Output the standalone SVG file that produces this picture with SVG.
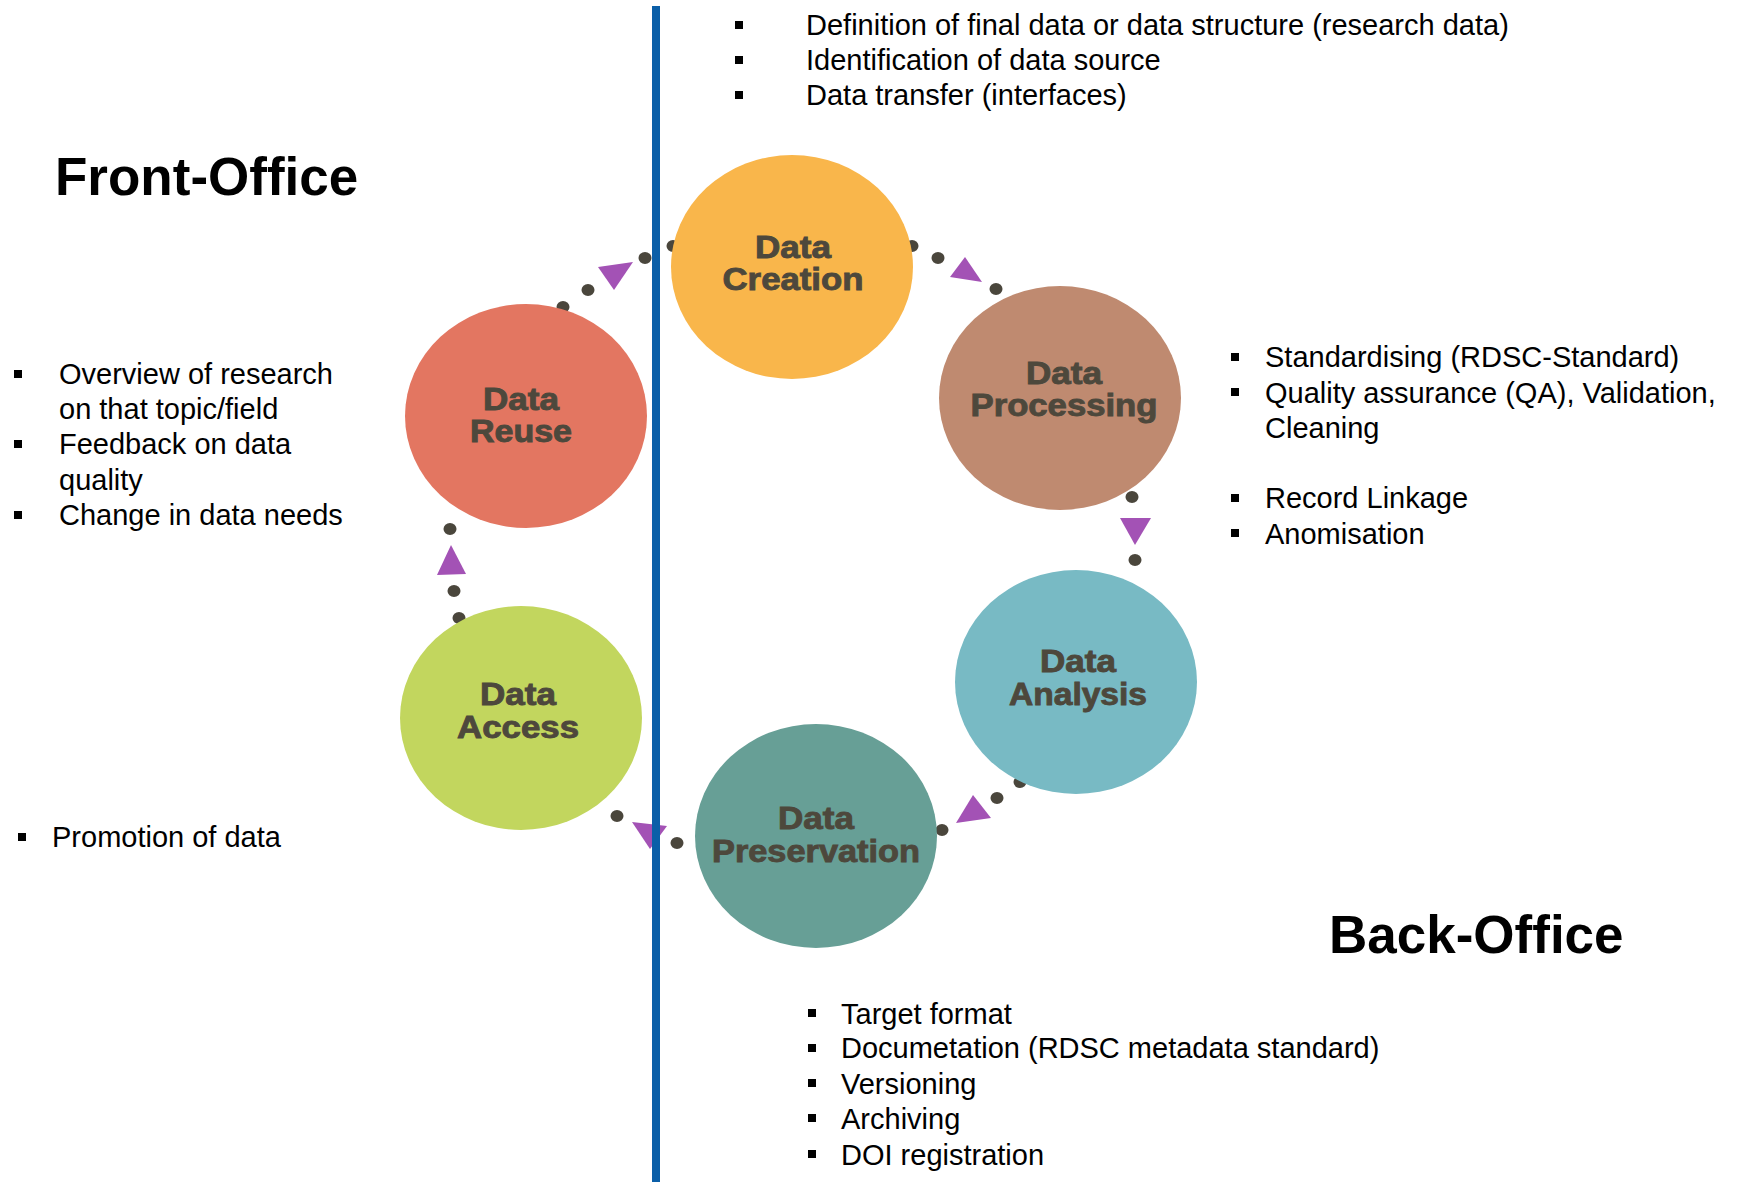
<svg xmlns="http://www.w3.org/2000/svg" width="1738" height="1182" viewBox="0 0 1738 1182">
<style>
.bg{fill:#ffffff}
.node{stroke:none}
.lbl{font-family:"Liberation Sans",Arial,Helvetica,sans-serif;font-weight:bold;font-size:31px;fill:#4d483c;stroke:#4d483c;stroke-width:0.9px;text-anchor:middle}
.dot{fill:#4a463c}
.tri{fill:#a352b5}
.txt{font-family:"Liberation Sans",Arial,sans-serif;font-size:29px;fill:#000000}
.title{font-family:"Liberation Sans",Arial,sans-serif;font-size:53px;font-weight:bold;fill:#000000}
.bul{fill:#000000}
</style>
<defs>
<rect id="b" x="-4" y="-4" width="8" height="8"/>
</defs>
<rect class="bg" x="0" y="0" width="1738" height="1182"/>

<g id="connectors">
  <!-- Reuse -> Creation -->
  <ellipse class="dot" cx="563" cy="307" rx="6.5" ry="6"/>
  <ellipse class="dot" cx="588" cy="290" rx="6.5" ry="6"/>
  <polygon class="tri" points="598,267 633,262 614,290"/>
  <ellipse class="dot" cx="645" cy="258" rx="6.5" ry="6"/>
  <ellipse class="dot" cx="673" cy="246" rx="6.5" ry="6"/>
  <!-- Creation -> Processing -->
  <ellipse class="dot" cx="912" cy="246" rx="6.5" ry="6"/>
  <ellipse class="dot" cx="938" cy="258" rx="6.5" ry="6"/>
  <polygon class="tri" points="965,257 950,277 982,282"/>
  <ellipse class="dot" cx="996" cy="289" rx="6.5" ry="6"/>
  <!-- Processing -> Analysis -->
  <ellipse class="dot" cx="1132" cy="497" rx="6.5" ry="6"/>
  <polygon class="tri" points="1120,518 1151,518 1135,545"/>
  <ellipse class="dot" cx="1135" cy="560" rx="6.5" ry="6"/>
  <!-- Analysis -> Preservation -->
  <ellipse class="dot" cx="1020" cy="782" rx="6.5" ry="6"/>
  <ellipse class="dot" cx="997" cy="798" rx="6.5" ry="6"/>
  <polygon class="tri" points="973,795 956,823 991,818"/>
  <ellipse class="dot" cx="942" cy="830" rx="6.5" ry="6"/>
  <!-- Preservation -> Access -->
  <ellipse class="dot" cx="677" cy="843" rx="6.5" ry="6"/>
  <polygon class="tri" points="632,822 667,826 650,849"/>
  <ellipse class="dot" cx="617" cy="816" rx="6.5" ry="6"/>
  <!-- Access -> Reuse -->
  <ellipse class="dot" cx="459" cy="618" rx="6.5" ry="6"/>
  <ellipse class="dot" cx="454" cy="591" rx="6.5" ry="6"/>
  <polygon class="tri" points="451,545 437,575 466,574"/>
  <ellipse class="dot" cx="450" cy="529" rx="6.5" ry="6"/>
</g>

<g id="node-creation">
  <ellipse class="node" cx="792" cy="267" rx="121" ry="112" fill="#f9b64b"/>
  <text class="lbl" x="793" y="258" textLength="76" lengthAdjust="spacingAndGlyphs">Data</text>
  <text class="lbl" x="793" y="290" textLength="141" lengthAdjust="spacingAndGlyphs">Creation</text>
</g>
<g id="node-processing">
  <ellipse class="node" cx="1060" cy="398" rx="121" ry="112" fill="#bf8a70"/>
  <text class="lbl" x="1064" y="384" textLength="76" lengthAdjust="spacingAndGlyphs">Data</text>
  <text class="lbl" x="1064" y="416" textLength="187" lengthAdjust="spacingAndGlyphs">Processing</text>
</g>
<g id="node-analysis">
  <ellipse class="node" cx="1076" cy="682" rx="121" ry="112" fill="#78bac4"/>
  <text class="lbl" x="1078" y="672" textLength="76" lengthAdjust="spacingAndGlyphs">Data</text>
  <text class="lbl" x="1078" y="705" textLength="138" lengthAdjust="spacingAndGlyphs">Analysis</text>
</g>
<g id="node-preservation">
  <ellipse class="node" cx="816" cy="836" rx="121" ry="112" fill="#679f96"/>
  <text class="lbl" x="816" y="829" textLength="76" lengthAdjust="spacingAndGlyphs">Data</text>
  <text class="lbl" x="816" y="862" textLength="208" lengthAdjust="spacingAndGlyphs">Preservation</text>
</g>
<g id="node-access">
  <ellipse class="node" cx="521" cy="718" rx="121" ry="112" fill="#c2d65e"/>
  <text class="lbl" x="518" y="705" textLength="76" lengthAdjust="spacingAndGlyphs">Data</text>
  <text class="lbl" x="518" y="738" textLength="122" lengthAdjust="spacingAndGlyphs">Access</text>
</g>
<g id="node-reuse">
  <ellipse class="node" cx="526" cy="416" rx="121" ry="112" fill="#e37661"/>
  <text class="lbl" x="521" y="410" textLength="76" lengthAdjust="spacingAndGlyphs">Data</text>
  <text class="lbl" x="521" y="442" textLength="102" lengthAdjust="spacingAndGlyphs">Reuse</text>
</g>

<rect x="652" y="6" width="8" height="1176" fill="#0b5fa8"/>

<g id="titles">
  <text class="title" x="55" y="195">Front-Office</text>
  <text class="title" x="1329" y="953">Back-Office</text>
</g>

<g id="notes-creation">
  <use href="#b" class="bul" x="739" y="25"/>
  <use href="#b" class="bul" x="739" y="60"/>
  <use href="#b" class="bul" x="739" y="95"/>
  <text class="txt" x="806" y="35">Definition of final data or data structure (research data)</text>
  <text class="txt" x="806" y="70">Identification of data source</text>
  <text class="txt" x="806" y="105">Data transfer (interfaces)</text>
</g>

<g id="notes-processing">
  <use href="#b" class="bul" x="1235" y="357"/>
  <use href="#b" class="bul" x="1235" y="392"/>
  <use href="#b" class="bul" x="1235" y="498"/>
  <use href="#b" class="bul" x="1235" y="533"/>
  <text class="txt" x="1265" y="367">Standardising (RDSC-Standard)</text>
  <text class="txt" x="1265" y="402.5">Quality assurance (QA), Validation,</text>
  <text class="txt" x="1265" y="438">Cleaning</text>
  <text class="txt" x="1265" y="508">Record Linkage</text>
  <text class="txt" x="1265" y="543.5">Anomisation</text>
</g>

<g id="notes-reuse">
  <use href="#b" class="bul" x="18" y="374"/>
  <use href="#b" class="bul" x="18" y="444"/>
  <use href="#b" class="bul" x="18" y="515"/>
  <text class="txt" x="59" y="384">Overview of research</text>
  <text class="txt" x="59" y="419">on that topic/field</text>
  <text class="txt" x="59" y="454">Feedback on data</text>
  <text class="txt" x="59" y="489.5">quality</text>
  <text class="txt" x="59" y="525">Change in data needs</text>
</g>

<g id="notes-access">
  <use href="#b" class="bul" x="22" y="837"/>
  <text class="txt" x="52" y="847">Promotion of data</text>
</g>

<g id="notes-preservation">
  <use href="#b" class="bul" x="812" y="1013"/>
  <use href="#b" class="bul" x="812" y="1048"/>
  <use href="#b" class="bul" x="812" y="1083"/>
  <use href="#b" class="bul" x="812" y="1118"/>
  <use href="#b" class="bul" x="812" y="1154"/>
  <text class="txt" x="841" y="1023.5">Target format</text>
  <text class="txt" x="841" y="1058">Documetation (RDSC metadata standard)</text>
  <text class="txt" x="841" y="1093.5">Versioning</text>
  <text class="txt" x="841" y="1129">Archiving</text>
  <text class="txt" x="841" y="1164.5">DOI registration</text>
</g>
</svg>
